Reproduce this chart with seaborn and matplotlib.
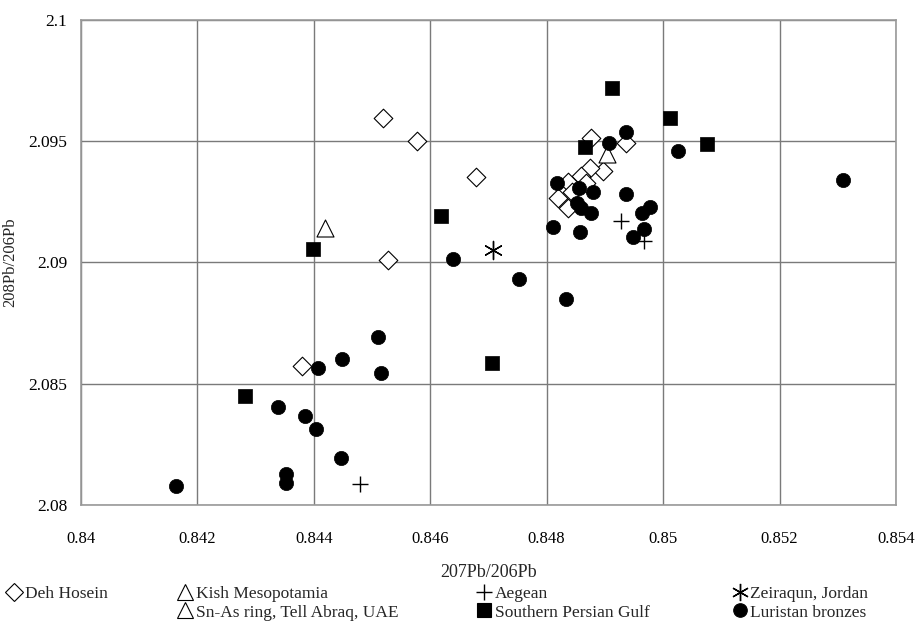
import matplotlib
matplotlib.use("Agg")
import matplotlib.lines as mlines
import pandas as pd
import seaborn as sns
from matplotlib import pyplot as plt

# values (207Pb/206Pb, 208Pb/206Pb)
deh_hosein_x = [0.84518, 0.84578, 0.84678, 0.84528, 0.84379, 0.84876, 0.84937,
                0.84896, 0.84875, 0.84859, 0.84836, 0.84819, 0.84836, 0.84844, 0.84867]
deh_hosein_y = [2.09596, 2.09500, 2.09351, 2.09010, 2.08574, 2.09512, 2.09494,
                2.09377, 2.09388, 2.09357, 2.09333, 2.09267, 2.09223, 2.09292, 2.09327]

kish_x = [0.84419]
kish_y = [2.09141]

snas_x = [0.84903]
snas_y = [2.09446]

aegean_x = [0.84479, 0.84928, 0.84968]
aegean_y = [2.08087, 2.09171, 2.09090]

zeiraqun_x = [0.84708]
zeiraqun_y = [2.09052]

spg_x = [0.84398, 0.84282, 0.84619, 0.84706, 0.84866, 0.84913, 0.85011, 0.85075]
spg_y = [2.09056, 2.08451, 2.09193, 2.08584, 2.09476, 2.09721, 2.09595, 2.09490]

luristan_x = [0.84164, 0.84352, 0.84352, 0.84339, 0.84384, 0.84403, 0.84447, 0.84407,
              0.84448, 0.84511, 0.84515, 0.84639, 0.84753, 0.84833, 0.84810, 0.84857,
              0.84818, 0.84856, 0.84879, 0.84852, 0.84859, 0.84876, 0.84937, 0.84964,
              0.84977, 0.84967, 0.84949, 0.84907, 0.84937, 0.85026, 0.85309]
luristan_y = [2.08080, 2.08128, 2.08092, 2.08404, 2.08368, 2.08313, 2.08193, 2.08564,
              2.08601, 2.08693, 2.08544, 2.09016, 2.08931, 2.08848, 2.09148, 2.09127,
              2.09327, 2.09306, 2.09290, 2.09244, 2.09226, 2.09205, 2.09281, 2.09205,
              2.09230, 2.09137, 2.09106, 2.09492, 2.09539, 2.09460, 2.09340]

x_ticks = [0.84, 0.842, 0.844, 0.846, 0.848, 0.85, 0.852, 0.854]
y_ticks = [2.08, 2.085, 2.09, 2.095, 2.1]

# name, x, y, marker, facecolor, size
series = [
    ("Deh Hosein", deh_hosein_x, deh_hosein_y, "D", "white", 90),
    ("Kish Mesopotamia", kish_x, kish_y, "^", "white", 150),
    ("Sn-As ring, Tell Abraq, UAE", snas_x, snas_y, "^", "white", 150),
    ("Aegean", aegean_x, aegean_y, "+", "black", 130),
    ("Zeiraqun, Jordan", zeiraqun_x, zeiraqun_y, (6, 2, 0), "black", 170),
    ("Southern Persian Gulf", spg_x, spg_y, "s", "black", 105),
    ("Luristan bronzes", luristan_x, luristan_y, "o", "black", 105),
]

sns.set_style("white")
plt.rcParams["font.family"] = ["Liberation Serif", "DejaVu Serif"]

fig = plt.figure(figsize=(9.15, 6.27), dpi=100)
ax = fig.add_axes([0.0885, 0.1946, 0.8907, 0.7735])

for name, xs, ys, marker, fc, size in series:
    df = pd.DataFrame({"x": xs, "y": ys})
    if fc == "white":
        sns.scatterplot(data=df, x="x", y="y", marker=marker, s=size,
                        facecolor="white", edgecolor="black", linewidth=0.8,
                        ax=ax, zorder=3)
    elif marker in ("+", (6, 2, 0)):
        sns.scatterplot(data=df, x="x", y="y", marker=marker, s=size,
                        color="black", linewidth=1.0, ax=ax, zorder=3)
    else:
        sns.scatterplot(data=df, x="x", y="y", marker=marker, s=size,
                        color="black", edgecolor="black", linewidth=0.5,
                        ax=ax, zorder=3)

ax.set_xlim(0.84, 0.854)
ax.set_ylim(2.08, 2.1)
ax.set_xticks(x_ticks)
ax.set_xticklabels([f"{v:g}" for v in x_ticks])
ax.set_yticks(y_ticks)
ax.set_yticklabels([f"{v:g}" for v in y_ticks])
ax.tick_params(length=0, labelsize=12.5, colors="black")
ax.tick_params(axis="x", pad=19, labelsize=12)
ax.tick_params(axis="y", pad=10)
ax.grid(True, color="#7a7a7a", linewidth=1.0)
for sp in ax.spines.values():
    sp.set_color("#9a9a9a")
    sp.set_linewidth(1.2)

ax.set_xlabel("207Pb/206Pb", fontsize=13, labelpad=12)
ax.set_ylabel("208Pb/206Pb", fontsize=12, labelpad=7)


def handle(marker, fc, ms):
    if marker in ("+", (6, 2, 0)):
        return mlines.Line2D([], [], linestyle="none", marker=marker, color="black",
                             markersize=ms, markeredgewidth=1.0)
    return mlines.Line2D([], [], linestyle="none", marker=marker, markerfacecolor=fc,
                         markeredgecolor="black", markersize=ms, markeredgewidth=0.8)


h = {name: handle(m, fc, (s ** 0.5) * 0.95) for name, _, _, m, fc, s in series}

# legend laid out in four fixed columns like the original
columns = [
    (0.006, ["Deh Hosein"]),
    (0.193, ["Kish Mesopotamia", "Sn-As ring, Tell Abraq, UAE"]),
    (0.520, ["Aegean", "Southern Persian Gulf"]),
    (0.799, ["Zeiraqun, Jordan", "Luristan bronzes"]),
]
for x0, names in columns:
    fig.legend(handles=[h[n] for n in names], labels=names, loc="upper left",
               bbox_to_anchor=(x0, 0.066), frameon=False, fontsize=12.5,
               handletextpad=0.1, handlelength=1.0, labelspacing=0.15,
               borderpad=0, borderaxespad=0)

plt.savefig("out.png", dpi=100)
